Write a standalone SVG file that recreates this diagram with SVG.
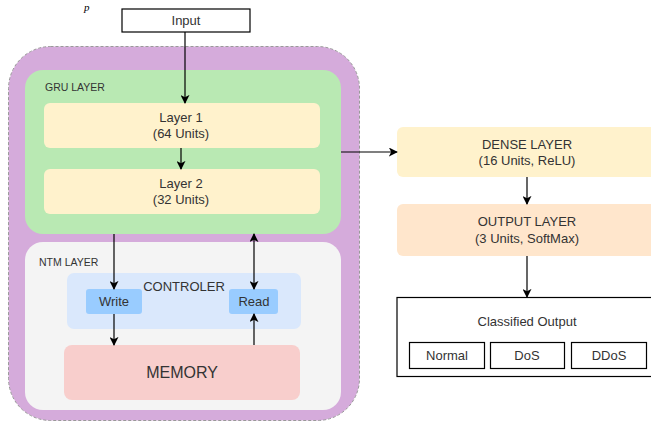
<svg xmlns="http://www.w3.org/2000/svg" width="651" height="423" viewBox="0 0 651 423">
<style>
text{font-family:"Liberation Sans",Arial,Helvetica,sans-serif;fill:#333333;text-anchor:middle}
.sm{font-size:10.5px;text-anchor:start}
.t{font-size:13px}
.c{fill:none;stroke:#000;stroke-width:1.2}
.box{stroke:#000;stroke-width:1.2;fill:#fff}
</style>
<defs>
<marker id="ah" viewBox="0 0 10 10" refX="9" refY="5" markerWidth="9" markerHeight="9" markerUnits="userSpaceOnUse" orient="auto-start-reverse">
<path d="M0,0 L10,5 L0,10 L2.5,5 Z" fill="#000"/>
</marker>
</defs>
<text x="84" y="11" style="font-family:'Liberation Serif',serif;font-style:italic;font-size:11px;fill:#000;text-anchor:start">p</text>
<g id="input"><rect class="box" x="122" y="9" width="128" height="23"/><text class="t" x="186" y="25">Input</text></g>
<g id="outer"><rect x="8.5" y="46.5" width="351" height="374" rx="42" fill="#d5abdb" stroke="#999" stroke-dasharray="3 2"/></g>
<g id="gru"><rect x="25" y="70" width="316" height="164" rx="18" fill="#b9e9b3"/><text class="sm" x="45" y="91">GRU LAYER</text></g>
<g id="layer1"><rect x="44" y="103" width="276" height="45" rx="6" fill="#fff2cc"/><text class="t" x="181" y="122">Layer 1</text><text class="t" x="181" y="138">(64 Units)</text></g>
<g id="layer2"><rect x="44" y="169" width="276" height="45" rx="6" fill="#fff2cc"/><text class="t" x="181" y="188">Layer 2</text><text class="t" x="181" y="204">(32 Units)</text></g>
<g id="ntm"><rect x="25" y="242" width="316" height="168" rx="18" fill="#f4f4f4"/><text class="sm" x="39" y="266">NTM LAYER</text></g>
<g id="controller"><rect x="67" y="273" width="234" height="56" rx="7" fill="#dae8fc"/><text class="t" x="184" y="291">CONTROLER</text></g>
<g id="write"><rect x="86" y="289" width="56" height="25" rx="3" fill="#99ccff"/><text class="t" x="114" y="306">Write</text></g>
<g id="read"><rect x="229" y="289" width="49" height="25" rx="3" fill="#99ccff"/><text class="t" x="254" y="306">Read</text></g>
<g id="memory"><rect x="64" y="345" width="236" height="55" rx="8" fill="#f8cecc"/><text x="182" y="378" style="font-size:16px">MEMORY</text></g>
<g id="dense"><rect x="397" y="127" width="262" height="50" rx="6" fill="#fff2cc"/><text class="t" x="527" y="149">DENSE LAYER</text><text class="t" x="527" y="165">(16 Units, ReLU)</text></g>
<g id="output"><rect x="397" y="204" width="262" height="52" rx="6" fill="#ffe6cc"/><text class="t" x="527" y="226">OUTPUT LAYER</text><text class="t" x="527" y="243">(3 Units, SoftMax)</text></g>
<g id="classified"><rect class="box" x="397" y="297.5" width="262" height="79"/><text class="t" x="527" y="326">Classified Output</text></g>
<g id="normal"><rect class="box" x="409.5" y="342.5" width="75" height="26"/><text class="t" x="447" y="360">Normal</text></g>
<g id="dos"><rect class="box" x="490.5" y="342.5" width="74" height="26"/><text class="t" x="527" y="360">DoS</text></g>
<g id="ddos"><rect class="box" x="571.5" y="342.5" width="75" height="26"/><text class="t" x="609" y="360">DDoS</text></g>
<g id="connectors">
<line class="c" x1="185" y1="32" x2="185" y2="103" marker-end="url(#ah)"/>
<line class="c" x1="181" y1="148" x2="181" y2="169" marker-end="url(#ah)"/>
<line class="c" x1="114" y1="234" x2="114" y2="289" marker-end="url(#ah)"/>
<line class="c" x1="114" y1="314" x2="114" y2="345" marker-end="url(#ah)"/>
<line class="c" x1="254" y1="345" x2="254" y2="314" marker-end="url(#ah)"/>
<line class="c" x1="254" y1="234" x2="254" y2="289" marker-start="url(#ah)" marker-end="url(#ah)"/>
<line class="c" x1="341" y1="152" x2="397" y2="152" marker-end="url(#ah)"/>
<line class="c" x1="527" y1="177" x2="527" y2="204" marker-end="url(#ah)"/>
<line class="c" x1="527" y1="256" x2="527" y2="297" marker-end="url(#ah)"/>
</g>
</svg>
